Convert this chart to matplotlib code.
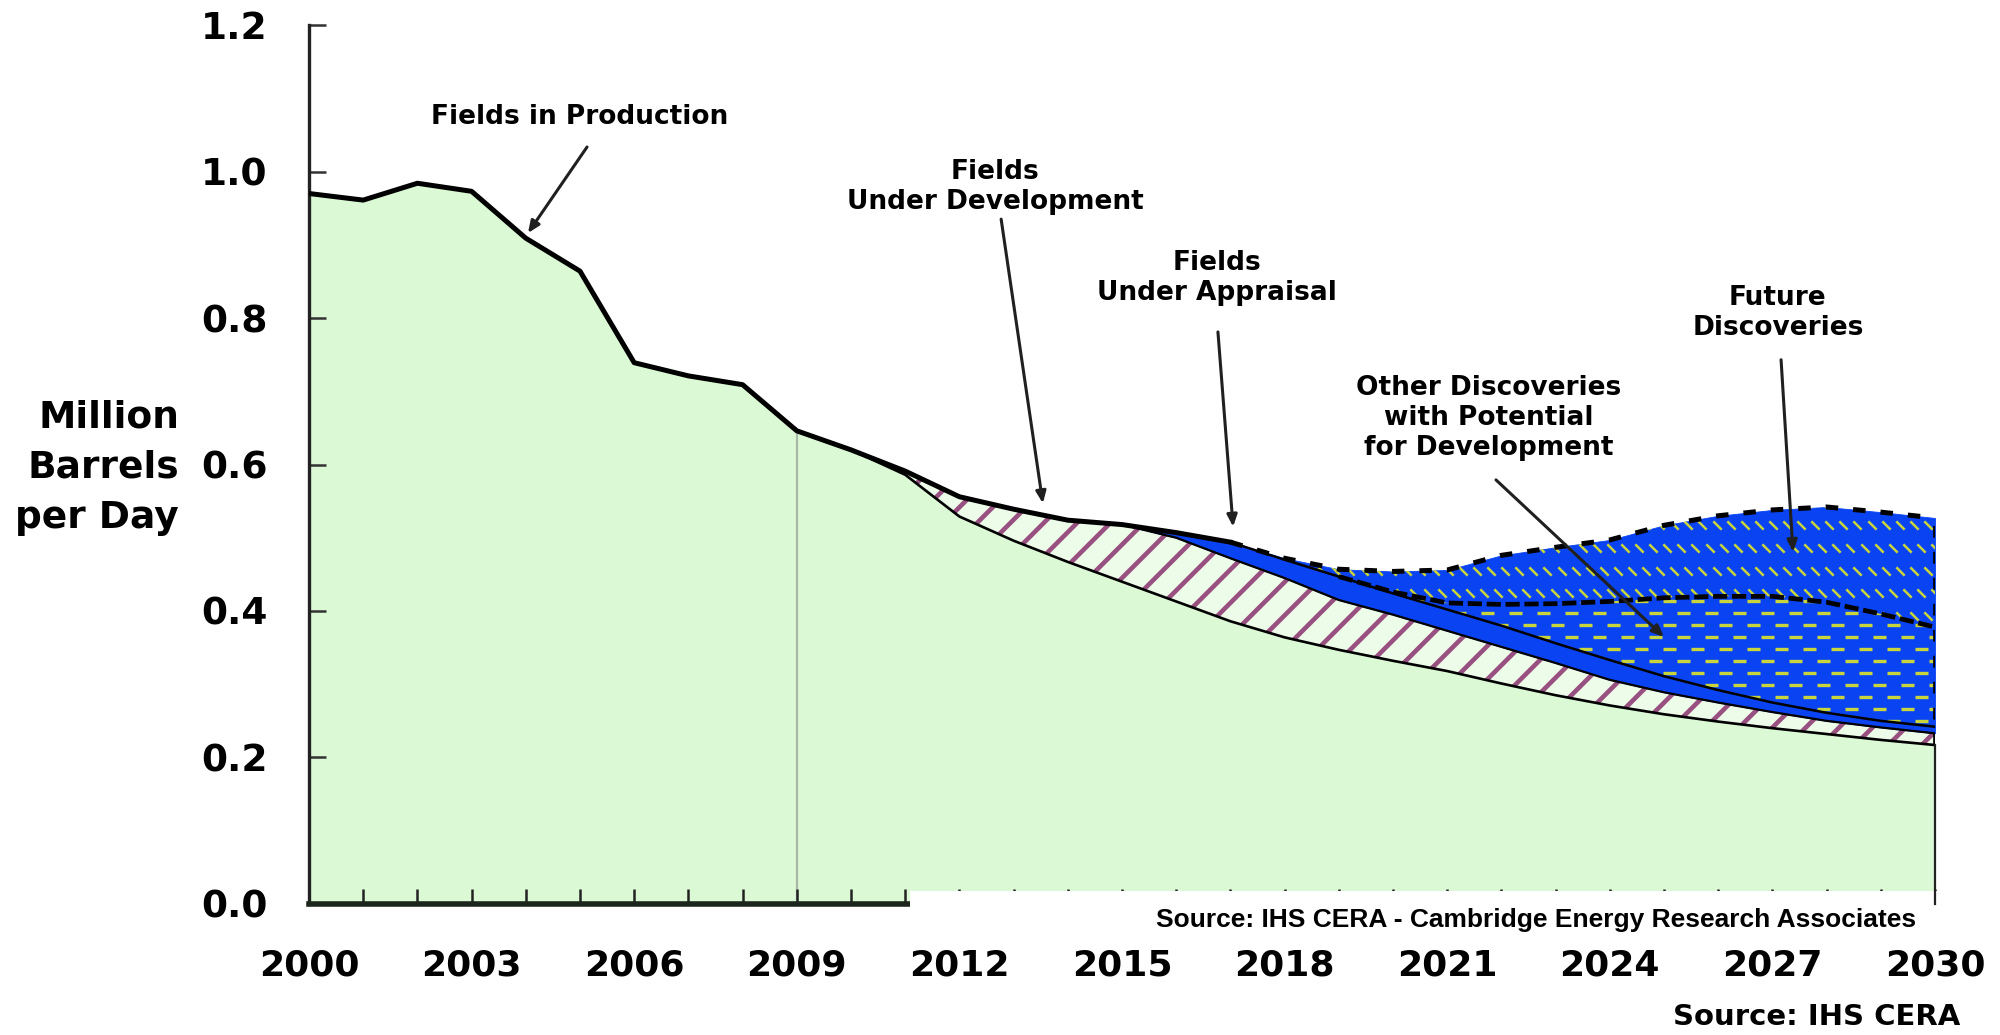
import numpy as np
import matplotlib
matplotlib.use("Agg")
import matplotlib.pyplot as plt
from matplotlib.path import Path
from matplotlib.patches import Rectangle
from matplotlib.ticker import FormatStrFormatter, MultipleLocator

# million barrels per day, split by status of the fields
years = np.arange(2000, 2031)
in_production = [0.970, 0.961, 0.984, 0.973, 0.909, 0.864, 0.739, 0.721, 0.709, 0.646,
                 0.620, 0.586, 0.529, 0.496, 0.467, 0.440, 0.413, 0.386, 0.364, 0.347,
                 0.332, 0.318, 0.301, 0.285, 0.271, 0.259, 0.249, 0.240, 0.232, 0.224, 0.217]
under_development = [0] * 11 + [0.005, 0.027, 0.043, 0.057, 0.078, 0.087, 0.086, 0.081, 0.068, 0.063,
                                0.055, 0.050, 0.044, 0.035, 0.030, 0.026, 0.022, 0.018, 0.017, 0.016]
under_appraisal = [0] * 16 + [0.007, 0.022, 0.025, 0.032, 0.029, 0.029, 0.029, 0.027, 0.027, 0.022,
                              0.017, 0.013, 0.011, 0.009, 0.009]
other_discoveries = [0] * 20 + [0.002, 0.009, 0.029, 0.054, 0.080, 0.107, 0.128, 0.145, 0.151, 0.146, 0.136]
future_discoveries = [0] * 18 + [0.002, 0.010, 0.028, 0.045, 0.067, 0.077, 0.084, 0.099, 0.110, 0.118,
                                 0.130, 0.139, 0.149]

year_ticks = list(range(2000, 2031, 3))

GREEN = "#dcf9d6"
PALE = "#edfce9"
PURPLE = "#985080"
BLUE = "#0a44f2"
YELLOW = "#c8d43c"

plt.rcParams["font.family"] = ["DejaVu Sans"]
plt.rcParams["font.weight"] = "bold"
plt.rcParams["hatch.linewidth"] = 3.3

fig = plt.figure(figsize=(20, 10.35), dpi=100)
ax = fig.add_axes([0.1545, 0.1266, 0.813, 0.8492])

b1 = np.array(in_production)
b2 = b1 + np.array(under_development)
b3 = b2 + np.array(under_appraisal)
b4 = b3 + np.array(other_discoveries)
b5 = b4 + np.array(future_discoveries)


def first_idx(serie):
    nz = np.nonzero(np.array(serie) > 0)[0]
    return max(nz[0] - 1, 0)


# areas
ax.fill_between(years, 0, b1, facecolor=GREEN, lw=0, zorder=1)
ax.fill_between(years, b1, b2, facecolor=PALE, edgecolor=PURPLE, hatch="/", lw=0, zorder=1.2)
ax.fill_between(years, b2, b3, facecolor=BLUE, edgecolor=BLUE, lw=0.6, zorder=1.3)
otr = ax.fill_between(years, b3, b4, facecolor=BLUE, edgecolor=BLUE, lw=0.6, zorder=1.3)
fut = ax.fill_between(years, b4, b5, facecolor=BLUE, edgecolor=BLUE, lw=0.6, zorder=1.3)

# horizontal yellow dashes for the other discoveries
clip_otr = otr.get_paths()[0]
for k, yy in enumerate(np.arange(0.2, 0.48, 0.0164)):
    ln, = ax.plot([2018, 2030], [yy, yy], color=YELLOW, lw=2.4,
                  linestyle=(4.2 * (k % 2), (3.9, 4.5)), zorder=1.4)
    ln.set_clip_path(clip_otr, ax.transData)

# small diagonal yellow marks for the future discoveries
tick = Path([(-1, 1), (1, -1)], [Path.MOVETO, Path.LINETO])
gx, gy = np.meshgrid(np.arange(2017.0, 2030.4, 0.26), np.arange(0.30, 0.60, 0.031))
gx[1::2] += 0.13
pts, = ax.plot(gx.ravel(), gy.ravel(), ls="none", marker=tick, ms=6, mew=1.8,
               mec=YELLOW, zorder=1.4)
pts.set_clip_path(fut.get_paths()[0], ax.transData)

# boundary lines
i = first_idx(under_development)
ax.plot(years[i:], b1[i:], color="black", lw=1.9, zorder=3)
i = first_idx(under_appraisal)
ax.plot(years[i:], b2[i:], color="black", lw=1.6, zorder=3)
i = min(first_idx(other_discoveries), first_idx(future_discoveries))
ax.plot(years[i:], b3[i:], color="black", lw=1.8, zorder=3)
i = first_idx(other_discoveries)
ax.plot(years[i:], b4[i:], color="black", lw=3.4, dashes=(3, 1), zorder=3)
i = first_idx(future_discoveries)
ax.plot(years[:i + 1], b5[:i + 1], color="black", lw=3.6, zorder=3.2)
ax.plot(years[i:], b5[i:], color="black", lw=3.6, dashes=(2.5, 3), zorder=3.2)
ax.plot([years[-1], years[-1]], [b1[-1], b5[-1]], color="black", lw=3.4, dashes=(2.5, 3), zorder=3)
ax.plot([years[-1], years[-1]], [0, b1[-1]], color="#222222", lw=1.6, zorder=6, clip_on=False)
ax.plot([2009, 2009], [0, b5[9]], color="#a9b9a9", lw=1.6, zorder=1.1)

# axes
ax.set_xlim(2000, 2030)
ax.set_ylim(0, 1.2)
ax.set_xticks(year_ticks)
ax.xaxis.set_minor_locator(MultipleLocator(1))
ax.set_yticks(np.arange(0, 1.21, 0.2))
ax.yaxis.set_major_formatter(FormatStrFormatter("%.1f"))
ax.spines[["top", "right"]].set_visible(False)
ax.spines["left"].set_linewidth(2.4)
ax.spines["left"].set_color("#222222")
ax.spines["bottom"].set_linewidth(4)
ax.spines["bottom"].set_color("#1c261c")
ax.tick_params(axis="y", direction="in", length=12, width=1.8, pad=30, labelsize=27, color="#333333")
ax.tick_params(axis="x", which="both", direction="in", length=11, width=1.8, pad=32,
               labelsize=26, color="#222222")
ax.patch.set_alpha(0)

# white strip that hides the lower right of the axis
ax.add_patch(Rectangle((2011.08, -0.025), 20, 0.0427, transform=ax.transData,
                       facecolor="white", edgecolor="none", clip_on=False, zorder=5))

# labels
fs = 19
ax.text(2005.0, 1.074, "Fields in Production", ha="center", va="center", fontsize=fs)
ax.text(2012.66, 0.979, "Fields\nUnder Development", ha="center", va="center", fontsize=fs)
ax.text(2016.75, 0.855, "Fields\nUnder Appraisal", ha="center", va="center", fontsize=fs)
ax.text(2021.77, 0.6635, "Other Discoveries\nwith Potential\nfor Development",
        ha="center", va="center", fontsize=fs)
ax.text(2027.1, 0.807, "Future\nDiscoveries", ha="center", va="center", fontsize=fs)

flecha = dict(arrowstyle="-|>,head_length=0.7,head_width=0.3", color="#202020", lw=2.2,
              shrinkA=0, shrinkB=0)
ax.annotate("", xy=(2004.04, 0.916), xytext=(2005.13, 1.0335), arrowprops=flecha, zorder=4)
ax.annotate("", xy=(2013.54, 0.547), xytext=(2012.77, 0.935), arrowprops=flecha, zorder=4)
ax.annotate("", xy=(2017.05, 0.515), xytext=(2016.77, 0.781), arrowprops=flecha, zorder=4)
ax.annotate("", xy=(2025.0, 0.3645), xytext=(2021.9, 0.579), arrowprops=flecha, zorder=4)
ax.annotate("", xy=(2027.38, 0.4805), xytext=(2027.16, 0.743), arrowprops=flecha, zorder=4)

fig.text(0.0895, 0.548, "Million\nBarrels\nper Day", ha="right", va="center", fontsize=27,
         linespacing=1.5)
fig.text(0.958, 0.111, "Source: IHS CERA - Cambridge Energy Research Associates",
         ha="right", va="center", fontsize=19, family="Liberation Sans")
fig.text(0.98, 0.0174, "Source: IHS CERA", ha="right", va="center", fontsize=21)

fig.savefig("out.png", dpi=100, facecolor="white")
